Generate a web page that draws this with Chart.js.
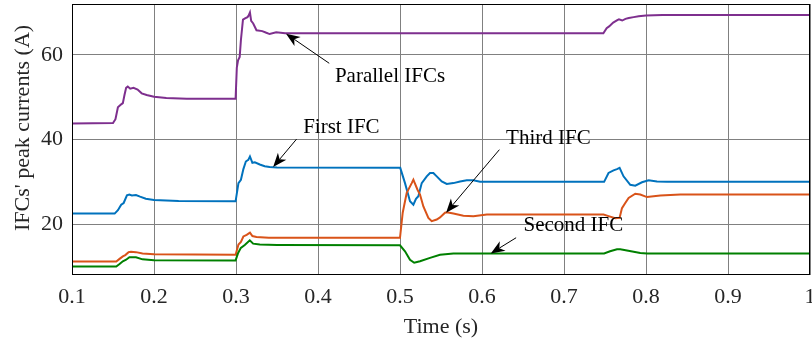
<!DOCTYPE html>
<html>
<head>
<meta charset="utf-8">
<script src="https://cdn.jsdelivr.net/npm/chart.js@4/dist/chart.umd.min.js"></script>
<style>
  html, body { margin: 0; padding: 0; background: #fff; }
  canvas { display: block; }
</style>
</head>
<body>
<canvas id="chart" width="812" height="347"></canvas>
<script>
// Axis ticks
const xTicks = [0.1, 0.2, 0.3, 0.4, 0.5, 0.6, 0.7, 0.8, 0.9, 1];
const yTicks = [20, 40, 60];

// Parallel IFCs (total) peak current, A
const parallelT = [0.1, 0.150, 0.153, 0.156, 0.160, 0.162, 0.164, 0.166, 0.168, 0.171, 0.175, 0.180, 0.185, 0.191, 0.200, 0.215, 0.240,
  0.2995, 0.3010, 0.3025, 0.3045, 0.3060, 0.3085, 0.3110, 0.3140, 0.3155, 0.3170, 0.3185, 0.3210, 0.3250, 0.3320, 0.3370, 0.3410, 0.3490, 0.3600,
  0.7480, 0.7520, 0.7550, 0.7600, 0.7650, 0.7670, 0.7710, 0.7750, 0.7790, 0.7850, 0.7910, 0.8000, 0.8200, 1.0];
const parallelA = [43.8, 43.9, 44.8, 47.6, 48.3, 48.6, 50.5, 52.2, 52.5, 52.0, 52.2, 51.8, 50.9, 50.5, 50.1, 49.8, 49.6,
  49.6, 57.0, 58.7, 59.5, 63.5, 68.3, 68.6, 68.9, 69.3, 70.0, 68.0, 67.4, 65.8, 65.6, 65.2, 64.9, 65.3, 65.1,
  65.1, 66.3, 66.7, 67.6, 68.2, 68.4, 68.1, 68.5, 68.7, 68.9, 69.1, 69.3, 69.4, 69.4];

// First IFC
const firstT = [0.1, 0.152, 0.156, 0.160, 0.163, 0.167, 0.170, 0.173, 0.178, 0.183, 0.190, 0.200, 0.230,
  0.2995, 0.3030, 0.3060, 0.3090, 0.3120, 0.3150, 0.3170, 0.3200, 0.3230, 0.3290, 0.3350, 0.3410, 0.3500,
  0.5003, 0.5061, 0.5122, 0.5163, 0.5195, 0.5224, 0.5265, 0.5326, 0.5366, 0.5407, 0.5448, 0.5509, 0.5570, 0.5651, 0.5733, 0.5814, 0.5895, 0.5977,
  0.7489, 0.7543, 0.7604, 0.7646, 0.7678, 0.7726, 0.7808, 0.7869, 0.7951, 0.8032, 0.8134, 0.8256, 1.0];
const firstA = [22.5, 22.5, 23.3, 24.6, 25.0, 26.8, 27.0, 26.8, 26.9, 26.5, 26.0, 25.7, 25.5,
  25.4, 29.7, 30.5, 33.0, 34.8, 35.2, 36.0, 34.5, 34.6, 34.1, 33.7, 33.5, 33.4,
  33.3, 29.7, 25.4, 24.6, 26.0, 26.6, 29.7, 31.3, 32.1, 32.1, 31.3, 30.1, 29.5, 29.7, 30.1, 30.35, 30.35, 30.0,
  30.0, 32.1, 32.7, 33.0, 33.3, 31.3, 29.3, 29.1, 29.9, 30.35, 30.1, 30.0, 30.0];

// Third IFC
const thirdT = [0.1, 0.154, 0.158, 0.162, 0.165, 0.169, 0.172, 0.178, 0.186, 0.200,
  0.2995, 0.3030, 0.3060, 0.3090, 0.3130, 0.3170, 0.3200, 0.3250, 0.3400,
  0.5000, 0.5033, 0.5082, 0.5143, 0.5163, 0.5212, 0.5244, 0.5285, 0.5346, 0.5387, 0.5448, 0.5488, 0.5549, 0.5570, 0.5651, 0.5773, 0.5895, 0.6059,
  0.7482, 0.7543, 0.7625, 0.7678, 0.7707, 0.7747, 0.7788, 0.7869, 0.7930, 0.8012, 0.8175, 0.8419, 1.0];
const thirdA = [11.2, 11.2, 11.8, 12.4, 12.7, 13.4, 13.5, 13.4, 13.1, 12.9,
  12.8, 15.2, 15.8, 17.1, 17.5, 18.0, 17.2, 17.0, 16.8,
  16.8, 22.7, 27.4, 29.7, 30.5, 28.2, 27.0, 24.2, 21.5, 20.7, 21.1, 21.6, 22.7, 22.8, 22.5, 22.0, 21.9, 22.3,
  22.3, 21.9, 21.4, 21.5, 23.8, 25.0, 26.2, 27.2, 27.0, 26.4, 26.8, 27.0, 27.0];

// Second IFC
const secondT = [0.1, 0.154, 0.158, 0.162, 0.166, 0.170, 0.178, 0.186, 0.200,
  0.2995, 0.3026, 0.3059, 0.3107, 0.3168, 0.3209, 0.3290, 0.3500,
  0.5000, 0.5061, 0.5122, 0.5173, 0.5244, 0.5366, 0.5488, 0.5651,
  0.7489, 0.7562, 0.7646, 0.7686, 0.7768, 0.7930, 0.8012, 1.0];
const secondA = [10.0, 10.0, 10.6, 11.25, 11.6, 12.2, 12.2, 11.7, 11.5,
  11.45, 13.2, 14.4, 15.1, 16.2, 15.4, 15.2, 15.1,
  15.0, 13.6, 11.6, 10.9, 11.25, 12.05, 12.8, 13.1,
  13.1, 13.6, 14.1, 14.1, 13.8, 13.2, 13.1, 13.1];

// Callout labels: arrow tip, arrow tail and text anchor, in (time, current) units
const notes = [
  { label: 'Parallel IFCs', tip: [0.3610, 65.0], tail: [0.4137, 58.0], text: [0.4206, 54.9] },
  { label: 'First IFC',     tip: [0.3453, 33.5], tail: [0.3739, 40.1], text: [0.3819, 42.8] },
  { label: 'Third IFC',     tip: [0.5562, 22.7], tail: [0.6212, 37.6], text: [0.6294, 40.35] },
  { label: 'Second IFC',    tip: [0.6107, 13.1], tail: [0.6416, 16.8], text: [0.6506, 19.7] }
];

const SERIF = "'Liberation Serif', 'Times New Roman', Times, serif";
const pts = (t, a) => t.map((x, i) => ({ x, y: a[i] }));
const line = (data, color) => ({
  data, borderColor: color, borderWidth: 2, pointRadius: 0, tension: 0, fill: false
});
// keep the plot box fixed: no extra room reserved for overhanging tick labels
const noPad = s => { s.paddingLeft = 0; s.paddingRight = 0; s.paddingTop = 0; s.paddingBottom = 0; };

const decor = {
  id: 'decor',
  afterDatasetsDraw(chart) {
    const { ctx, chartArea: ca, scales: { x, y } } = chart;
    ctx.save();
    // axes box
    ctx.strokeStyle = '#000';
    ctx.lineWidth = 1;
    ctx.strokeRect(Math.round(ca.left) + 0.5, Math.round(ca.top) + 0.5,
      Math.round(ca.right - ca.left) - 1, Math.round(ca.bottom - ca.top) - 1);

    // callouts
    ctx.font = '21px ' + SERIF;
    ctx.fillStyle = '#000';
    ctx.textAlign = 'left';
    ctx.textBaseline = 'middle';
    notes.forEach(n => {
      const tx = x.getPixelForValue(n.tip[0]), ty = y.getPixelForValue(n.tip[1]);
      const sx = x.getPixelForValue(n.tail[0]), sy = y.getPixelForValue(n.tail[1]);
      const ang = Math.atan2(ty - sy, tx - sx);
      const L = 14, W = 5.5, notch = 10;
      const ux = Math.cos(ang), uy = Math.sin(ang);
      const bx = tx - ux * L, by = ty - uy * L;
      ctx.beginPath();
      ctx.moveTo(sx, sy);
      ctx.lineTo(tx - ux * notch, ty - uy * notch);
      ctx.lineWidth = 1;
      ctx.stroke();
      ctx.beginPath();
      ctx.moveTo(tx, ty);
      ctx.lineTo(bx - uy * W, by + ux * W);
      ctx.lineTo(tx - ux * notch, ty - uy * notch);
      ctx.lineTo(bx + uy * W, by - ux * W);
      ctx.closePath();
      ctx.fill();
      ctx.fillText(n.label, x.getPixelForValue(n.text[0]), y.getPixelForValue(n.text[1]));
    });

    // axis titles
    ctx.fillStyle = '#262626';
    ctx.font = '22px ' + SERIF;
    ctx.textAlign = 'center';
    ctx.fillText('Time (s)', (ca.left + ca.right) / 2, 327);
    ctx.translate(23, 128);
    ctx.rotate(-Math.PI / 2);
    ctx.fillText("IFCs' peak currents (A)", 0, 0);
    ctx.restore();
  }
};

new Chart(document.getElementById('chart'), {
  type: 'line',
  data: {
    datasets: [
      line(pts(parallelT, parallelA), '#7E2F8E'),
      line(pts(secondT, secondA), '#008000'),
      line(pts(thirdT, thirdA), '#D95319'),
      line(pts(firstT, firstA), '#0072BD')
    ]
  },
  options: {
    responsive: false,
    animation: false,
    devicePixelRatio: 1,
    layout: { padding: { top: 4, right: 2, left: 0, bottom: 0 } },
    plugins: { legend: { display: false }, tooltip: { enabled: false } },
    scales: {
      x: {
        type: 'linear', min: 0.1, max: 1,
        afterBuildTicks: s => { s.ticks = xTicks.map(v => ({ value: v })); },
        afterFit: s => { s.height = 72; noPad(s); },
        ticks: {
          callback: v => String(v), autoSkip: false, maxRotation: 0,
          font: { family: SERIF, size: 22 }, color: '#262626', padding: 9
        },
        grid: { color: '#808080', lineWidth: 1, drawTicks: false },
        border: { display: false }
      },
      y: {
        type: 'linear', min: 8, max: 72,
        afterBuildTicks: s => { s.ticks = yTicks.map(v => ({ value: v })); },
        afterFit: s => { s.width = 72; noPad(s); },
        ticks: {
          callback: v => String(v),
          font: { family: SERIF, size: 22 }, color: '#262626', padding: 9
        },
        grid: { color: '#808080', lineWidth: 1, drawTicks: false },
        border: { display: false }
      }
    }
  },
  plugins: [decor]
});
</script>
</body>
</html>
